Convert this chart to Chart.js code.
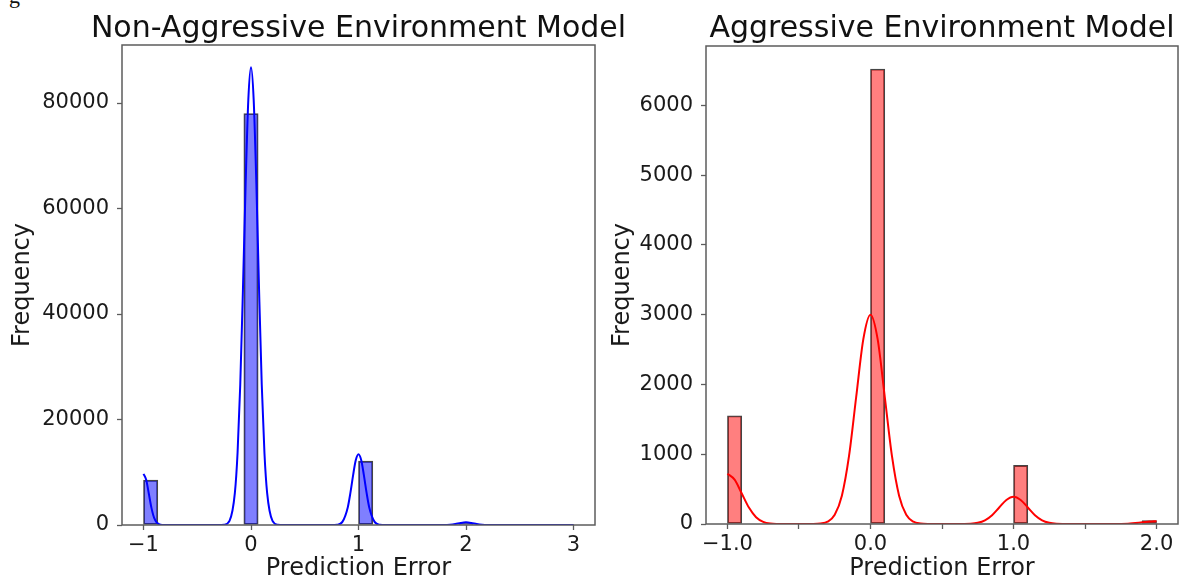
<!DOCTYPE html>
<html lang="en">
<head>
<meta charset="UTF-8">
<title>Prediction Error Histograms</title>
<style>
  body { margin: 0; background: #fff; }
  #wrap { position: relative; width: 1183px; height: 581px; overflow: hidden; }
  #wrap canvas { position: absolute; top: 0; }
  #left { left: 0; }
  #right { left: 600px; }
  #cut { position: absolute; left: 9px; top: -17px; font: 22px "Liberation Serif", serif; color: #111; }
</style>
</head>
<body>
<div id="wrap">
  <div id="cut">g</div>
  <canvas id="left" width="640" height="581"></canvas>
  <canvas id="right" width="583" height="581"></canvas>
</div>

<script src="https://cdn.jsdelivr.net/npm/chart.js"></script>
<script>
// histogram counts, 30 bins each
const leftRange = [-1, 3];
const leftCounts = [8500, 0, 0, 0, 0, 0, 0, 78000, 0, 0,
                    0, 0, 0, 0, 0, 12100, 0, 0, 0, 0,
                    0, 0, 300, 0, 0, 0, 0, 0, 0, 20];
const rightRange = [-1, 2];
const rightCounts = [1550, 0, 0, 0, 0, 0, 0, 0, 0, 0,
                     6520, 0, 0, 0, 0, 0, 0, 0, 0, 0,
                     840, 0, 0, 0, 0, 0, 0, 0, 0, 50];

// kde curves (x, frequency)
const leftKdeX = [-1, -0.975, -0.95, -0.925, -0.9, -0.85, -0.8, -0.3, -0.25, -0.2, -0.15, -0.125, -0.1, -0.075, -0.05, -0.025, 0,
                  0.025, 0.05, 0.075, 0.1, 0.125, 0.15, 0.2, 0.25, 0.3, 0.75, 0.8, 0.85, 0.9, 0.925, 0.95, 0.975, 1,
                  1.025, 1.05, 1.075, 1.1, 1.15, 1.2, 1.25, 1.8, 1.85, 1.9, 1.95, 2, 2.05, 2.1, 2.15, 2.2, 3];
const leftKdeY = [9700, 8560, 5880, 3150, 1310, 110, 0, 0, 50, 770, 6100, 13700, 26600, 44600, 64600, 80600, 86800,
                  80600, 64600, 44600, 26600, 13700, 6100, 770, 50, 0, 0, 50, 590, 3330, 6140, 9470, 12300, 13400,
                  12300, 9470, 6140, 3330, 590, 50, 0, 0, 50, 180, 390, 500, 390, 180, 50, 0, 20];
const rightKdeX = [-1, -0.95, -0.9, -0.85, -0.8, -0.75, -0.7, -0.6, -0.4, -0.35, -0.3, -0.25, -0.2, -0.15, -0.1, -0.05, 0,
                   0.05, 0.1, 0.15, 0.2, 0.25, 0.3, 0.35, 0.4, 0.6, 0.7, 0.75, 0.8, 0.85, 0.9, 0.95, 1,
                   1.05, 1.1, 1.15, 1.2, 1.25, 1.3, 1.4, 1.7, 1.8, 1.9, 1.95, 2];
const rightKdeY = [720, 635, 437, 235, 97, 31, 8, 0, 1, 7, 33, 132, 406, 975, 1820, 2650, 3000,
                   2650, 1820, 975, 406, 132, 33, 7, 1, 0, 4, 17, 53, 127, 237, 344, 390,
                   344, 237, 127, 53, 17, 4, 0, 0, 5, 24, 35, 40];

// axis ticks
const leftXTicks = [-1, 0, 1, 2, 3];
const leftXLabels = ['\u22121', '0', '1', '2', '3'];
const leftYTicks = [0, 20000, 40000, 60000, 80000];
const rightXTicks = [-1, -0.5, 0, 0.5, 1, 1.5, 2];
const rightXLabels = ['\u22121.0', '', '0.0', '', '1.0', '', '2.0'];
const rightYTicks = [0, 1000, 2000, 3000, 4000, 5000, 6000];

Chart.defaults.font.family = 'DejaVu Sans';
Chart.defaults.color = '#1a1a1a';

// box around the plot area
const frame = {
  id: 'frame',
  afterDatasetsDraw(chart) {
    const { ctx, chartArea: a } = chart;
    ctx.save();
    ctx.strokeStyle = '#5c5c5c';
    ctx.lineWidth = 1.5;
    ctx.strokeRect(a.left, a.top, a.right - a.left, a.bottom - a.top);
    ctx.restore();
  }
};

// title centred over the plot area, allowed to run wider than it
const heading = {
  id: 'heading',
  afterDraw(chart, args, opts) {
    const { ctx, chartArea: a } = chart;
    ctx.save();
    ctx.font = '30px "DejaVu Sans"';
    ctx.fillStyle = '#111';
    ctx.textAlign = 'center';
    ctx.textBaseline = 'alphabetic';
    ctx.fillText(opts.text, (a.left + a.right) / 2, opts.baseline);
    ctx.restore();
  }
};

function binCenters(range, n) {
  const w = (range[1] - range[0]) / n;
  return Array.from({ length: n }, (_, i) => range[0] + (i + 0.5) * w);
}

function makeChart(id, o) {
  const centers = binCenters(o.range, o.counts.length);
  const axisFont = { size: 24, lineHeight: 1 };
  return new Chart(document.getElementById(id), {
    type: 'bar',
    data: {
      datasets: [
        {
          type: 'line',
          data: o.kdeX.map((x, i) => ({ x: x, y: o.kdeY[i] })),
          borderColor: o.line,
          borderWidth: 2,
          pointRadius: 0,
          cubicInterpolationMode: 'monotone',
          order: 0
        },
        {
          type: 'bar',
          data: centers.map((x, i) => ({ x: x, y: o.counts[i] })),
          backgroundColor: o.fill,
          borderColor: 'rgba(35,35,35,0.85)',
          borderWidth: 1.2,
          borderSkipped: false,
          barPercentage: 1,
          categoryPercentage: 1,
          order: 1
        }
      ]
    },
    options: {
      responsive: false,
      animation: false,
      layout: { padding: { left: 0, right: o.padRight, top: o.top, bottom: 0 } },
      plugins: {
        legend: { display: false },
        tooltip: { enabled: false },
        heading: { text: o.title, baseline: 37 }
      },
      scales: {
        x: {
          type: 'linear',
          min: o.xMin,
          max: o.xMax,
          bounds: 'data',
          offset: false,
          afterBuildTicks: s => { s.ticks = o.xTicks.map(v => ({ value: v })); },
          afterFit: s => { s.height = o.xHeight; },
          ticks: {
            autoSkip: false,
            maxRotation: 0,
            padding: 3,
            font: { size: 21 },
            callback: (v, i) => o.xLabels[i]
          },
          grid: { offset: false, drawOnChartArea: false, drawTicks: true, tickLength: 5, tickColor: '#5c5c5c', tickWidth: 1.3 },
          border: { display: false },
          title: { display: true, text: 'Prediction Error', font: axisFont, padding: { top: 0, bottom: 0 } }
        },
        y: {
          min: 0,
          max: o.yMax,
          afterBuildTicks: s => { s.ticks = o.yTicks.map(v => ({ value: v })); },
          afterFit: s => { s.width = o.yWidth; },
          ticks: { padding: 8, font: { size: 21 }, callback: v => String(v) },
          grid: { drawOnChartArea: false, drawTicks: true, tickLength: 5, tickColor: '#5c5c5c', tickWidth: 1.3 },
          border: { display: false },
          title: { display: true, text: 'Frequency', font: axisFont, padding: { top: 11, bottom: 0 } }
        }
      }
    },
    plugins: [frame, heading]
  });
}

makeChart('left', {
  title: 'Non-Aggressive Environment Model',
  range: leftRange, counts: leftCounts,
  kdeX: leftKdeX, kdeY: leftKdeY,
  line: '#0000ff', fill: 'rgba(0,0,255,0.5)',
  xMin: -1.2, xMax: 3.2, xTicks: leftXTicks, xLabels: leftXLabels,
  yMax: 91000, yTicks: leftYTicks,
  yWidth: 122, xHeight: 56, top: 45, padRight: 45
});

makeChart('right', {
  title: 'Aggressive Environment Model',
  range: rightRange, counts: rightCounts,
  kdeX: rightKdeX, kdeY: rightKdeY,
  line: '#ff0000', fill: 'rgba(255,0,0,0.5)',
  xMin: -1.15, xMax: 2.15, xTicks: rightXTicks, xLabels: rightXLabels,
  yMax: 6850, yTicks: rightYTicks,
  yWidth: 106, xHeight: 57, top: 46, padRight: 5
});
</script>
</body>
</html>
